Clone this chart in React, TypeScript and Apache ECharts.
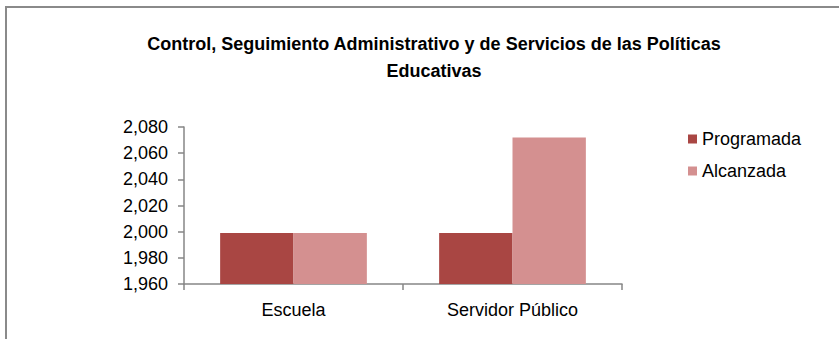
import React, { useEffect, useRef } from "react";
import * as echarts from "echarts";

const categories = ["Escuela", "Servidor Público"];
const programada = [1999, 1999];
const alcanzada = [1999, 2072];
const seriesNames = ["Programada", "Alcanzada"];
const titleText = "Control, Seguimiento Administrativo y de Servicios de las Políticas\nEducativas";

export default function App() {
  const ref = useRef<HTMLDivElement>(null);
  useEffect(() => {
    if (!ref.current) return;
    const chart = echarts.init(ref.current, null, { renderer: "svg" });
    const font = "'Liberation Sans', Arial, sans-serif";
    chart.setOption({
      animation: false,
      backgroundColor: "#ffffff",
      title: {
        text: titleText,
        left: 434,
        textAlign: "center",
        top: 30,
        padding: 0,
        textStyle: {
          fontFamily: font,
          fontWeight: "bold",
          fontSize: 18,
          color: "#000",
          lineHeight: 27,
        },
      },
      legend: {
        orient: "vertical",
        left: 688,
        top: 130,
        padding: 0,
        itemWidth: 9,
        itemHeight: 9,
        itemGap: 14,
        icon: "rect",
        textStyle: { fontFamily: font, fontSize: 18, color: "#000", lineHeight: 18 },
        data: seriesNames,
      },
      graphic: [
        {
          type: "rect",
          shape: { x: 6, y: 7, width: 900, height: 400 },
          style: { fill: "none", stroke: "#8a8a8a", lineWidth: 2 },
          silent: true,
        },
      ],
      grid: { left: 184, top: 127, right: 217, bottom: 55, containLabel: false },
      xAxis: {
        type: "category",
        data: categories,
        axisLine: { lineStyle: { color: "#868686", width: 1.5 } },
        axisTick: { show: true, length: 6, lineStyle: { color: "#868686", width: 1.5 } },
        axisLabel: { fontFamily: font, fontSize: 18, color: "#000", margin: 17 },
      },
      yAxis: {
        type: "value",
        min: 1960,
        max: 2080,
        interval: 20,
        splitLine: { show: false },
        axisLine: { show: true, lineStyle: { color: "#868686", width: 1.5 } },
        axisTick: { show: true, length: 6, lineStyle: { color: "#868686", width: 1.5 } },
        axisLabel: {
          fontFamily: font,
          fontSize: 18,
          color: "#000",
          margin: 16,
          formatter: (v: number) => v.toLocaleString("en-US"),
        },
      },
      series: [
        {
          name: seriesNames[0],
          type: "bar",
          data: programada,
          barGap: "0%",
          barCategoryGap: "33%",
          itemStyle: { color: "#A94643" },
        },
        {
          name: seriesNames[1],
          type: "bar",
          data: alcanzada,
          barGap: "0%",
          barCategoryGap: "33%",
          itemStyle: { color: "#D49090" },
        },
      ],
    });
    return () => chart.dispose();
  }, []);
  return (
    <div
      ref={ref}
      style={{ position: "absolute", left: 0, top: 0, width: 839, height: 339 }}
    />
  );
}
